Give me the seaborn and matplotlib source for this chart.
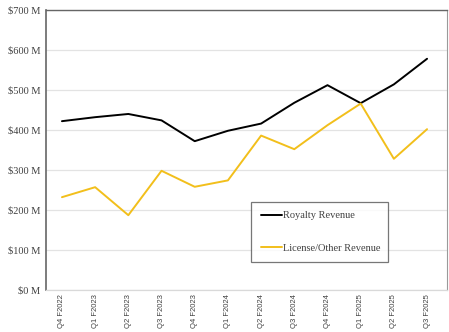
import matplotlib
matplotlib.use("Agg")
import matplotlib.pyplot as plt
import seaborn as sns
import pandas as pd

quarters = ["Q4 F2022", "Q1 F2023", "Q2 F2023", "Q3 F2023", "Q4 F2023", "Q1 F2024",
            "Q2 F2024", "Q3 F2024", "Q4 F2024", "Q1 F2025", "Q2 F2025", "Q3 F2025"]
royalty = [422, 432, 440, 424, 372, 398, 416, 468, 512, 467, 514, 578]
license_other = [232, 257, 187, 298, 258, 274, 386, 352, 412, 466, 328, 402]
series_names = ["Royalty Revenue", "License/Other Revenue"]
yticks = [0, 100, 200, 300, 400, 500, 600, 700]

df = pd.DataFrame({
    "quarter": quarters * 2,
    "value": royalty + license_other,
    "series": [series_names[0]] * len(quarters) + [series_names[1]] * len(quarters),
})
df["x"] = df.groupby("series").cumcount()

sns.set_style("white")
fig = plt.figure(figsize=(4.49, 3.32), dpi=100)
ax = fig.add_axes([0.1025, 0.1265, 0.893, 0.8435])

sns.lineplot(data=df, x="x", y="value", hue="series",
             palette={series_names[0]: "#000000", series_names[1]: "#F2BF1B"},
             linewidth=1.4, ax=ax, sort=False)

ax.set_xlim(-0.48, 11.6)
ax.set_ylim(0, 700)
ax.set_yticks(yticks)
ax.set_yticklabels([f"${v} M" for v in yticks], family="Liberation Serif",
                   fontsize=7.5, color="#404040")
ax.set_xticks(range(len(quarters)))
ax.set_xticklabels(quarters, rotation=90, family="Liberation Sans",
                   fontsize=5.5, color="#404040")
ax.tick_params(axis="y", length=0, pad=4)
ax.tick_params(axis="x", length=0, pad=3)
ax.set_xlabel("")
ax.set_ylabel("")
ax.grid(axis="y", color="#E3E3E3", linewidth=0.9)
ax.set_axisbelow(True)

ax.spines["left"].set_color("#666666")
ax.spines["left"].set_linewidth(1.2)
ax.spines["top"].set_color("#666666")
ax.spines["top"].set_linewidth(1.0)
ax.spines["right"].set_color("#9A9A9A")
ax.spines["right"].set_linewidth(0.8)
ax.spines["bottom"].set_color("#D9D9D9")
ax.spines["bottom"].set_linewidth(0.9)

leg = ax.legend(loc="lower left", bbox_to_anchor=(0.512, 0.1, 0.34, 0.22),
                mode="expand", frameon=True, fancybox=False,
                prop={"family": "Liberation Serif", "size": 7.5},
                handlelength=2.0, handletextpad=0.1, labelspacing=2.2,
                borderpad=0.9, borderaxespad=0)
leg.get_frame().set_edgecolor("#555555")
leg.get_frame().set_linewidth(0.9)
for t in leg.get_texts():
    t.set_color("#404040")

fig.savefig("out.png", dpi=100)
